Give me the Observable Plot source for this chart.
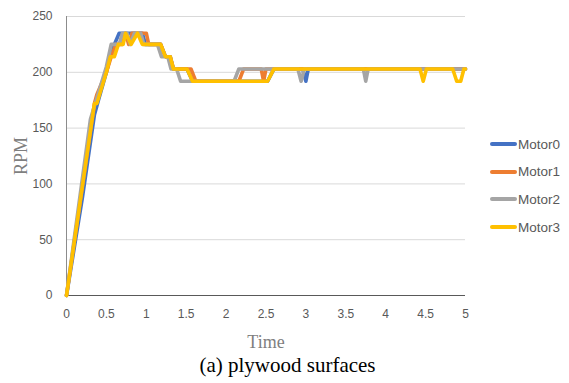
<!DOCTYPE html>
<html><head><meta charset="utf-8">
<script src="https://cdn.jsdelivr.net/npm/d3@7"></script>
<script src="https://cdn.jsdelivr.net/npm/@observablehq/plot@0.6"></script>
<style>
body{margin:0;background:#fff;}
#wrap{position:relative;width:569px;height:383px;overflow:hidden;}
#chart svg{display:block;}
#legend{position:absolute;left:490px;top:135px;font-family:"Liberation Sans",Arial,sans-serif;font-size:13.5px;color:#595959;}
.item{display:flex;align-items:center;height:18px;margin-bottom:9.7px;}
.swatch{width:27px;height:4px;border-radius:2px;margin-right:1px;}
#caption{position:absolute;left:0;width:575px;top:353px;text-align:center;font-family:"Liberation Serif","Times New Roman",serif;font-size:21px;color:#000;}
</style></head>
<body><div id="wrap"><div id="chart"></div><div id="legend"></div><div id="caption">(a) plywood surfaces</div></div>
<script>
const seriesNames = ["Motor0", "Motor1", "Motor2", "Motor3"];
const seriesColors = ["#4472C4", "#ED7D31", "#A5A5A5", "#FFC000"];
const xTicks = [0, 0.5, 1, 1.5, 2, 2.5, 3, 3.5, 4, 4.5, 5];
const yTicks = [0, 50, 100, 150, 200, 250];

const motor0Time = [0, 0.2, 0.35, 0.4, 0.5, 0.55, 0.6, 0.66, 0.95, 0.99, 1.18, 1.24, 1.3, 1.34, 1.51, 1.58, 2.52, 2.6, 2.96, 3.0, 3.03, 5];
const motor0Rpm  = [0, 88, 162, 175, 200, 214, 225, 235, 235, 225, 225, 214, 214, 203, 203, 192, 192, 203, 203, 192, 203, 203];

const motor1Time = [0, 0.35, 0.38, 0.5, 0.56, 0.62, 0.7, 0.74, 0.78, 0.82, 1.0, 1.03, 1.18, 1.24, 1.3, 1.34, 1.56, 1.62, 2.16, 2.22, 2.44, 2.47, 2.5, 5];
const motor1Rpm  = [0, 172, 180, 200, 214, 225, 225, 235, 225, 235, 235, 225, 225, 214, 214, 203, 203, 192, 192, 203, 203, 192, 203, 203];

const motor2Time = [0, 0.3, 0.5, 0.56, 0.66, 0.7, 0.76, 0.8, 0.85, 0.93, 0.97, 1.14, 1.19, 1.27, 1.31, 1.38, 1.43, 2.1, 2.16, 2.9, 2.94, 2.98, 3.72, 3.75, 3.78, 5];
const motor2Rpm  = [0, 158, 205, 225, 225, 235, 235, 225, 235, 235, 225, 225, 214, 214, 203, 203, 192, 192, 203, 203, 192, 203, 203, 192, 203, 203];

const motor3Time = [0, 0.35, 0.38, 0.5, 0.55, 0.6, 0.65, 0.71, 0.74, 0.81, 0.89, 0.95, 1.18, 1.24, 1.3, 1.34, 1.51, 1.58, 2.52, 2.6, 4.43, 4.47, 4.51, 4.84, 4.89, 4.94, 4.98, 5];
const motor3Rpm  = [0, 172, 172, 200, 214, 214, 225, 225, 235, 225, 235, 225, 225, 214, 214, 203, 203, 192, 192, 203, 203, 192, 203, 203, 192, 192, 203, 203];

const times = [motor0Time, motor1Time, motor2Time, motor3Time];
const rpms = [motor0Rpm, motor1Rpm, motor2Rpm, motor3Rpm];
const rows = [];
seriesNames.forEach((name, i) => times[i].forEach((t, j) => rows.push({series: name, time: t, rpm: rpms[i][j]})));

const chart = Plot.plot({
  width: 569, height: 352,
  marginLeft: 66, marginRight: 104, marginTop: 16, marginBottom: 57,
  style: {fontFamily: "'Liberation Sans', Arial, sans-serif", fontSize: "12px", color: "#595959", background: "transparent"},
  x: {domain: [0, 5], ticks: xTicks, tickFormat: d => String(d), tickSize: 0, tickPadding: 14, label: "Time", labelAnchor: "center", labelOffset: 52, labelArrow: "none"},
  y: {domain: [0, 250], ticks: yTicks, tickFormat: d => String(d), tickSize: 0, tickPadding: 14, label: "RPM", labelAnchor: "center", labelOffset: 52, labelArrow: "none"},
  color: {domain: seriesNames, range: seriesColors},
  marks: [
    Plot.gridY(yTicks, {stroke: "#d9d9d9", strokeOpacity: 1, strokeWidth: 1}),
    Plot.ruleX([0], {stroke: "#8c8c8c", strokeWidth: 1}),
    Plot.ruleY([0], {stroke: "#595959", strokeWidth: 1}),
    Plot.line(rows, {x: "time", y: "rpm", z: "series", stroke: "series", strokeWidth: 3.6, strokeLinejoin: "round", strokeLinecap: "round"})
  ]
});
document.getElementById("chart").appendChild(chart);

// style axis titles as serif
chart.querySelectorAll("g[aria-label='x-axis label'] text, g[aria-label='y-axis label'] text").forEach(t => {
  t.style.fontFamily = "'Liberation Serif', 'Times New Roman', serif";
  t.style.fontSize = "18px";
  t.style.fill = "#7f7f7f";
});

const legend = document.getElementById("legend");
seriesNames.forEach((name, i) => {
  const d = document.createElement("div"); d.className = "item";
  d.innerHTML = `<span class="swatch" style="background:${seriesColors[i]}"></span><span>${name}</span>`;
  legend.appendChild(d);
});
</script></body></html>
